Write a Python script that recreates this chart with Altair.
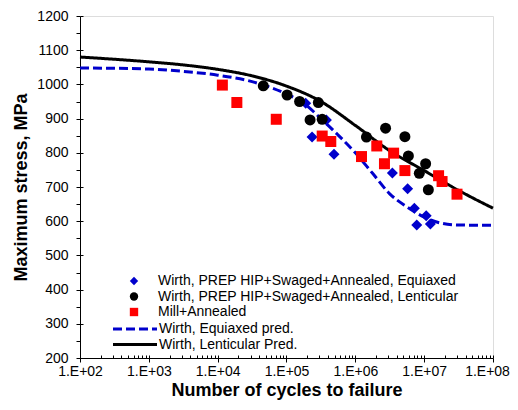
import altair as alt
import pandas as pd

# ---- data ----
eq_N = [1.9e5, 2.35e5, 3.8e5, 4.9e5, 3.45e6, 5.75e6, 7.2e6, 7.8e6, 1.07e7, 1.23e7]
eq_S = [945, 846, 896, 796, 741, 695, 638, 589, 616, 592]

len_N = [4.6e4, 1.02e5, 1.55e5, 2.9e5, 2.2e5, 3.3e5, 1.45e6, 2.75e6, 5.25e6, 5.9e6, 1.05e7, 8.5e6, 1.15e7]
len_S = [996, 969, 950, 947, 896, 898, 846, 872, 847, 791, 768, 740, 692]

mill_N = [1.17e4, 1.9e4, 7.1e4, 3.3e5, 4.4e5, 1.23e6, 2.05e6, 2.65e6, 3.6e6, 5.25e6, 1.62e7, 1.82e7, 3.0e7]
mill_S = [998, 947, 898, 849, 833, 789, 820, 768, 799, 748, 733, 716, 679]

eqp_N = [1e2, 1e3, 3.16e3, 1e4, 3.16e4, 1e5, 1.78e5, 3.16e5, 5.62e5, 1e6, 1.78e6, 3.16e6, 5.62e6, 1e7, 1.78e7, 3.16e7, 1e8]
eqp_S = [1048, 1045, 1038, 1027, 1008, 972, 945, 900, 852, 800, 740, 680, 642, 612, 594, 589, 588]

lenp_N = [1e2, 1e3, 3.16e3, 1e4, 3.16e4, 1e5, 3.16e5, 1e6, 3.16e6, 1e7, 3.16e7, 1e8]
lenp_S = [1080, 1066, 1057, 1044, 1025, 995, 950, 880, 806, 748, 690, 638]

pt_names = ["Wirth, PREP HIP+Swaged+Annealed, Equiaxed",
            "Wirth, PREP HIP+Swaged+Annealed, Lenticular",
            "Mill+Annealed"]
ln_names = ["Wirth, Equiaxed pred.", "Wirth, Lenticular Pred."]

x_major = [1e2, 1e3, 1e4, 1e5, 1e6, 1e7, 1e8]
x_minor = [m * 10 ** k for k in range(2, 8) for m in range(2, 10)]
y_major = list(range(200, 1201, 100))
y_all = list(range(200, 1201, 50))

FONT = "Liberation Sans"

pts = pd.DataFrame({
    "N": eq_N + len_N + mill_N,
    "S": eq_S + len_S + mill_S,
    "series": [pt_names[0]] * len(eq_N) + [pt_names[1]] * len(len_N) + [pt_names[2]] * len(mill_N),
    "o": list(range(len(eq_N) + len(len_N) + len(mill_N))),
})
lines = pd.DataFrame({
    "N": eqp_N + lenp_N,
    "S": eqp_S + lenp_S,
    "series": [ln_names[0]] * len(eqp_N) + [ln_names[1]] * len(lenp_N),
})

xscale = alt.Scale(type="log", domain=[1e2, 1e8], nice=False)
yscale = alt.Scale(domain=[200, 1200], nice=False, zero=False)

x_main = alt.Axis(orient="bottom", values=x_major, labelExpr="'1.E+0' + round(log(datum.value)/log(10))",
                  labelFlush=False, labelOverlap=False,
                  labelOffset=alt.condition("datum.value >= 1e8", alt.value(-6), alt.value(0)),
                  tickSize=4, tickColor="black", domainColor="black", grid=False,
                  labelFont=FONT, labelFontSize=14, labelColor="black", labelPadding=2,
                  title="Number of cycles to failure", titleFont=FONT, titleFontSize=18,
                  titleFontWeight="bold", titleColor="black", titlePadding=3)
y_main = alt.Axis(orient="left", values=y_all,
                  labelExpr="datum.value % 100 == 0 ? datum.value : ''",
                  labelOverlap=False,
                  tickSize=4, tickColor="black", domainColor="black", grid=False,
                  labelFont=FONT, labelFontSize=14, labelColor="black", labelPadding=8,
                  title="Maximum stress, MPa", titleFont=FONT, titleFontSize=18,
                  titleFontWeight="bold", titleColor="black", titlePadding=6)
x_in = alt.Axis(orient="bottom", values=x_major + x_minor, labels=False, domain=False,
                tickSize=3, offset=-3, tickColor="black", grid=False, title=None)
y_in = alt.Axis(orient="left", values=y_major, labels=False, domain=False,
                tickSize=3, offset=-3, tickColor="black", grid=False, title=None)

line_legend = alt.Legend(orient="none", legendX=48, legendY=306, title=None,
                         symbolType="M-4,0L4,0", symbolSize=121, symbolStrokeWidth=3,
                         labelFont=FONT, labelFontSize=14, labelColor="black",
                         labelLimit=400, labelOffset=17, rowPadding=1.5, padding=0)

line_layer = alt.Chart(lines).mark_line(strokeWidth=3, interpolate="monotone").encode(
    x=alt.X("N:Q", scale=xscale, axis=x_main),
    y=alt.Y("S:Q", scale=yscale, axis=y_main),
    color=alt.Color("series:N", scale=alt.Scale(domain=ln_names, range=["#0000CC", "black"]),
                    legend=line_legend),
    strokeDash=alt.StrokeDash("series:N", scale=alt.Scale(domain=ln_names, range=[[9, 4], [1, 0]]),
                              legend=line_legend),
    detail="series:N",
)

pt_legend = alt.Legend(orient="none", legendX=47, legendY=258, title=None,
                       symbolSize=70, labelFont=FONT, labelFontSize=14,
                       labelColor="black", labelLimit=400, labelOffset=17,
                       rowPadding=1.5, padding=0)

point_layer = alt.Chart(pts).mark_point(filled=True, size=121, opacity=1, strokeWidth=0).encode(
    x=alt.X("N:Q", scale=xscale, axis=x_in),
    y=alt.Y("S:Q", scale=yscale, axis=y_in),
    color=alt.Color("series:N", scale=alt.Scale(domain=pt_names, range=["#0000CC", "black", "#FF0000"]),
                    legend=pt_legend),
    shape=alt.Shape("series:N", scale=alt.Scale(domain=pt_names, range=["diamond", "circle", "square"]),
                    legend=pt_legend),
    order="o:Q",
)

chart = alt.layer(line_layer, point_layer).resolve_scale(
    color="independent", shape="independent", strokeDash="independent"
).resolve_axis(x="independent", y="independent").properties(
    width=413, height=342,
    autosize=alt.AutoSizeParams(type="none"),
    padding={"left": 72, "top": 8, "right": 17, "bottom": 44},
).configure_view(stroke="black", strokeWidth=1).configure(background="white")

chart.save("out.html", embed_options={"renderer": "svg", "actions": False})
